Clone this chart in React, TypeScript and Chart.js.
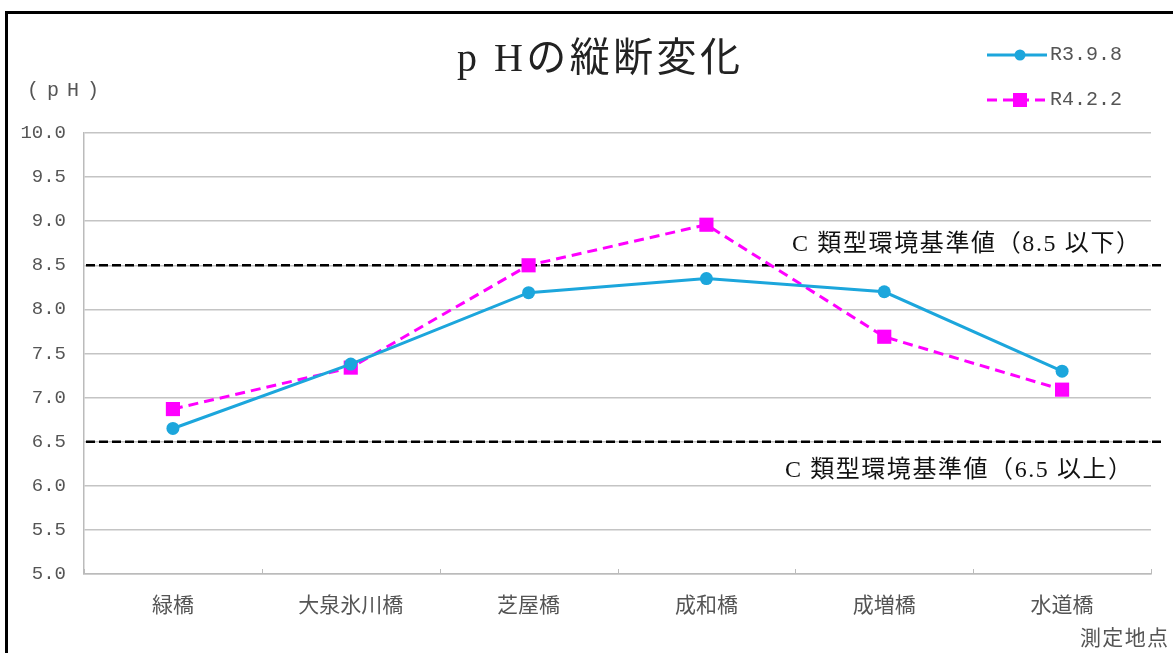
import { useEffect, useRef } from 'react';
import { Chart, registerables } from 'chart.js';

Chart.register(...registerables);

const categories = ['緑橋', '大泉氷川橋', '芝屋橋', '成和橋', '成増橋', '水道橋'];
const seriesNames = ['R3.9.8', 'R4.2.2'];
const seriesR3 = [6.65, 7.38, 8.19, 8.35, 8.2, 7.3];
const seriesR4 = [6.87, 7.34, 8.5, 8.96, 7.69, 7.09];
const yMin = 5.0;
const yMax = 10.0;
const yStep = 0.5;
const standardUpper = 8.5;
const standardLower = 6.5;
const upperLabel = 'C 類型環境基準値（8.5 以下）';
const lowerLabel = 'C 類型環境基準値（6.5 以上）';
const titleText = 'p Hの縦断変化';
const yUnitText = '(pH)';
const xTitleText = '測定地点';

const BLUE = '#1ca6dc';
const MAGENTA = '#ff00ff';
const GRID = '#c4c4c4';
const TEXT_GRAY = '#555555';
const MONO = '"Liberation Mono", "DejaVu Sans Mono", monospace';
const SERIF = '"Liberation Serif", "Noto Sans CJK JP", serif';
const GOTHIC = '"Noto Sans CJK JP", "Noto Sans", sans-serif';

function fitText(
  ctx: CanvasRenderingContext2D,
  text: string,
  x: number,
  y: number,
  width: number,
  align: 'left' | 'right'
) {
  const c: any = ctx;
  c.letterSpacing = '0px';
  const w = ctx.measureText(text).width;
  const n = Array.from(text).length;
  const sp = n > 1 ? (width - w) / (n - 1) : 0;
  c.letterSpacing = sp + 'px';
  ctx.textAlign = 'left';
  const startX = align === 'left' ? x : x - width;
  ctx.fillText(text, startX, y);
  c.letterSpacing = '0px';
}

const decorPlugin = {
  id: 'decor',
  beforeDatasetsDraw(chart: any) {
    const { ctx, scales } = chart;
    const y = scales.y;
    const x = scales.x;
    ctx.save();
    // inner tick marks at category boundaries
    ctx.strokeStyle = '#bbbbbb';
    ctx.lineWidth = 1;
    for (let i = 0; i <= categories.length; i++) {
      const px = Math.round(x.getPixelForValue(i - 0.5)) + 0.5;
      ctx.beginPath();
      ctx.moveTo(px, y.bottom);
      ctx.lineTo(px, y.bottom - 5);
      ctx.stroke();
    }
    // standard lines
    ctx.strokeStyle = '#000000';
    ctx.lineWidth = 2.5;
    ctx.setLineDash([9, 4]);
    [standardUpper, standardLower].forEach((v) => {
      const py = y.getPixelForValue(v);
      ctx.beginPath();
      ctx.moveTo(x.left + 2, py);
      ctx.lineTo(1161, py);
      ctx.stroke();
    });
    ctx.setLineDash([]);
    ctx.fillStyle = '#111111';
    ctx.font = '24px ' + SERIF;
    ctx.textBaseline = 'middle';
    fitText(ctx, upperLabel, 1140, y.getPixelForValue(standardUpper) - 21, 348, 'right');
    fitText(ctx, lowerLabel, 1132, y.getPixelForValue(standardLower) + 29, 347, 'right');
    ctx.restore();
  },
  afterDraw(chart: any) {
    const { ctx } = chart;
    ctx.save();
    // frame
    ctx.strokeStyle = '#000000';
    ctx.lineWidth = 3;
    ctx.beginPath();
    ctx.moveTo(6.5, 660);
    ctx.lineTo(6.5, 12.5);
    ctx.lineTo(1180, 12.5);
    ctx.stroke();

    // title
    ctx.fillStyle = '#222222';
    ctx.font = '40px ' + SERIF;
    ctx.textBaseline = 'middle';
    fitText(ctx, titleText, 457, 60, 283, 'left');

    // y unit
    ctx.fillStyle = TEXT_GRAY;
    ctx.font = '20px ' + MONO;
    fitText(ctx, yUnitText, 27, 91, 72, 'left');

    // x title
    ctx.font = '21px ' + GOTHIC;
    fitText(ctx, xTitleText, 1168, 637, 88, 'right');

    // legend
    const ds = chart.data.datasets;
    const rows = [55, 100];
    rows.forEach((ry: number, i: number) => {
      const d = ds[i];
      ctx.strokeStyle = d.borderColor;
      ctx.lineWidth = 3;
      ctx.setLineDash(d.borderDash || []);
      ctx.beginPath();
      ctx.moveTo(987, ry);
      ctx.lineTo(1047, ry);
      ctx.stroke();
      ctx.setLineDash([]);
      ctx.fillStyle = d.pointBackgroundColor;
      if (d.pointStyle === 'rect') {
        ctx.fillRect(1013, ry - 7, 14, 14);
      } else {
        ctx.beginPath();
        ctx.arc(1020, ry, 5.5, 0, Math.PI * 2);
        ctx.fill();
      }
      ctx.fillStyle = TEXT_GRAY;
      ctx.font = '20px ' + MONO;
      ctx.textAlign = 'left';
      ctx.fillText(d.label, 1050, ry);
    });
    ctx.restore();
  },
};

export default function App() {
  const canvasRef = useRef<HTMLCanvasElement | null>(null);

  useEffect(() => {
    const canvas = canvasRef.current;
    if (!canvas) return;
    const chart = new Chart(canvas, {
      type: 'line',
      data: {
        labels: categories,
        datasets: [
          {
            label: seriesNames[0],
            data: seriesR3,
            borderColor: BLUE,
            backgroundColor: BLUE,
            pointBackgroundColor: BLUE,
            pointBorderColor: BLUE,
            borderWidth: 3,
            pointStyle: 'circle',
            pointRadius: 6.5,
            pointBorderWidth: 0,
            tension: 0,
          } as any,
          {
            label: seriesNames[1],
            data: seriesR4,
            borderColor: MAGENTA,
            backgroundColor: MAGENTA,
            pointBackgroundColor: MAGENTA,
            pointBorderColor: MAGENTA,
            borderWidth: 3,
            borderDash: [10, 6],
            pointStyle: 'rect',
            pointRadius: 10,
            pointBorderWidth: 0,
            tension: 0,
          } as any,
        ],
      },
      options: {
        responsive: false,
        animation: false,
        devicePixelRatio: 1,
        layout: { padding: { top: 133, left: 0, right: 22, bottom: 0 } },
        plugins: {
          legend: { display: false },
          title: { display: false },
          tooltip: { enabled: false },
        },
        scales: {
          x: {
            type: 'category',
            offset: true,
            grid: { display: false, drawTicks: false },
            border: { display: true, color: '#bbbbbb', width: 1.5 },
            ticks: {
              font: { family: GOTHIC, size: 21 },
              color: TEXT_GRAY,
              padding: 17,
              maxRotation: 0,
              autoSkip: false,
            },
            afterFit: (s: any) => {
              s.height = 79;
            },
          },
          y: {
            min: yMin,
            max: yMax,
            ticks: {
              stepSize: yStep,
              callback: (v: any) => Number(v).toFixed(1),
              font: { family: MONO, size: 19 },
              color: TEXT_GRAY,
              padding: 18,
            },
            grid: { color: GRID, lineWidth: 1.5, drawTicks: false },
            border: { display: true, color: '#bbbbbb', width: 1.5 },
            afterFit: (s: any) => {
              s.width = 84;
            },
          },
        },
      },
      plugins: [decorPlugin],
    });
    return () => chart.destroy();
  }, []);

  return (
    <div style={{ position: 'fixed', left: 0, top: 0, width: 1173, height: 653, background: '#ffffff' }}>
      <canvas ref={canvasRef} width={1173} height={653} />
    </div>
  );
}
